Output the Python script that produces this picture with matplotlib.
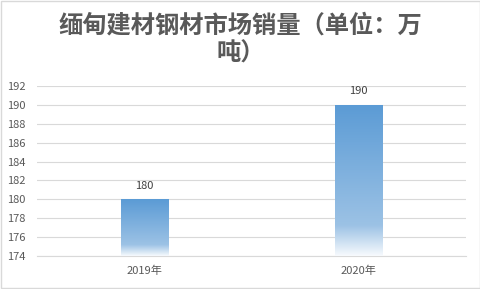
import matplotlib.pyplot as plt
import numpy as np
from matplotlib.colors import LinearSegmentedColormap

plt.rcParams['font.family'] = ['Noto Sans CJK SC', 'DejaVu Sans']

categories = ['2019年', '2020年']
values = [180, 190]
title = '缅甸建材钢材市场销量（单位：万\n吨）'
y_min, y_max, y_step = 174, 192, 2

grey = '#595959'
grid_c = '#D9D9D9'

fig = plt.figure(figsize=(4.81, 2.89), dpi=100)
ax = fig.add_axes([37 / 481, 1 - 256 / 289, 429 / 481, 170 / 289])

x = np.arange(len(categories))
bars = ax.bar(x, [v - y_min for v in values], bottom=y_min, width=0.22,
              color='none', edgecolor='none', zorder=3)

# vertical gradient, dark at the top, fading to white at the base
cmap = LinearSegmentedColormap.from_list(
    'fade', [(0.0, '#F7FAFD'), (0.2, '#9CC2E5'), (1.0, '#5B9BD5')])
grad = np.linspace(0, 1, 256).reshape(-1, 1)
for b in bars:
    x0, y0 = b.get_x(), b.get_y()
    x1, y1 = x0 + b.get_width(), y0 + b.get_height()
    im = ax.imshow(grad, cmap=cmap, origin='lower', aspect='auto',
                   extent=[x0, x1, y0, y1], zorder=3)
    im.set_clip_path(b)

for xi, v in zip(x, values):
    ax.text(xi, v + 0.9, str(v), ha='center', va='bottom',
            fontsize=8, color='#404040')

ax.set_xlim(-0.5, len(categories) - 0.5)
ax.set_ylim(y_min, y_max)
ax.set_yticks(np.arange(y_min, y_max + 1, y_step))
ax.set_xticks(x)
ax.set_xticklabels(categories)
ax.tick_params(axis='both', length=0, labelsize=8, labelcolor=grey)
ax.tick_params(axis='x', pad=7)
ax.tick_params(axis='y', pad=8)
ax.grid(axis='y', color=grid_c, linewidth=0.8, zorder=0)
for s in ['top', 'right', 'left']:
    ax.spines[s].set_visible(False)
ax.spines['bottom'].set_color(grid_c)

fig.text(0.5, 1 - 39.5 / 289, title, ha='center', va='center',
         fontsize=17.5, fontweight='bold', color=grey, linespacing=1.25)

fig.patches.append(plt.Rectangle((0.002, 0.003), 0.995, 0.993,
                                 transform=fig.transFigure, fill=False,
                                 edgecolor='#D9D9D9', linewidth=1))

fig.savefig('out.png', dpi=100)
